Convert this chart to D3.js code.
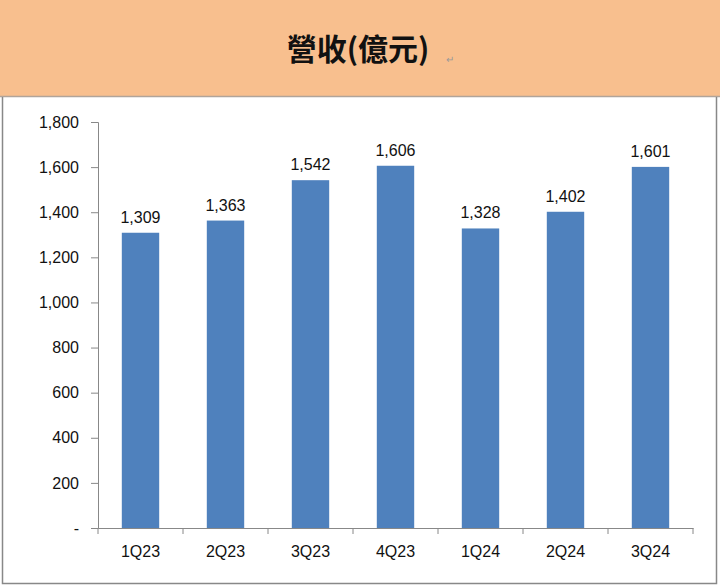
<!DOCTYPE html>
<html><head><meta charset="utf-8">
<script src="https://cdn.jsdelivr.net/npm/d3@7"></script>
<style>body{margin:0;background:#fff}svg{display:block}</style>
</head><body>
<svg id="c" width="720" height="586"></svg>
<script>
// quarterly revenue, 億元
var quarters = ['1Q23', '2Q23', '3Q23', '4Q23', '1Q24', '2Q24', '3Q24'];
var revenue = [1309, 1363, 1542, 1606, 1328, 1402, 1601];
var yTicks = [0, 200, 400, 600, 800, 1000, 1200, 1400, 1600, 1800];

var svg = d3.select('#c');
var font = 'Liberation Sans, Arial, sans-serif';

// header band
svg.append('rect').attr('x', 0).attr('y', 0).attr('width', 720).attr('height', 96)
  .attr('fill', '#F8BF8E');
svg.append('line').attr('x1', 0).attr('x2', 720).attr('y1', 96.5).attr('y2', 96.5)
  .attr('stroke', '#b0a49a').attr('stroke-width', 1.5);
svg.append('text').attr('x', 358).attr('y', 60).attr('text-anchor', 'middle')
  .attr('font-family', 'Noto Sans CJK TC, sans-serif').attr('font-weight', 'bold')
  .attr('font-size', 30).attr('fill', '#111').text('營收(億元)');
svg.append('text').attr('x', 446).attr('y', 63).attr('font-size', 10)
  .attr('fill', '#999').text('↵');

// chart frame
svg.append('path').attr('d', 'M2.5,97 V583.5 H716.5 V97')
  .attr('fill', 'none').attr('stroke', '#888').attr('stroke-width', 1.5);

var x = d3.scaleBand().domain(quarters).range([98, 693]).paddingInner(0.56).paddingOuter(0.28);
var y = d3.scaleLinear().domain([0, 1800]).range([528, 122]);
var band = d3.scaleBand().domain(quarters).range([98, 693]);

var yAxis = svg.append('g').attr('transform', 'translate(98,0)')
  .call(d3.axisLeft(y).tickValues(yTicks).tickSize(7).tickPadding(12)
    .tickFormat(function (d) { return d === 0 ? '-' : d3.format(',')(d); }));
var xAxis = svg.append('g').attr('transform', 'translate(0,528)')
  .call(d3.axisBottom(band).tickSize(0).tickPadding(18));
// x ticks sit between categories
xAxis.selectAll('.sep').data(quarters.concat(['end'])).enter().append('line')
  .attr('x1', function (d, i) { return 98 + i * band.step(); })
  .attr('x2', function (d, i) { return 98 + i * band.step(); })
  .attr('y1', 0).attr('y2', 6).attr('stroke', '#888');

[yAxis, xAxis].forEach(function (g) {
  g.select('.domain').attr('stroke', '#888');
  g.selectAll('.tick line').attr('stroke', '#888');
  g.selectAll('text').attr('font-family', font).attr('font-size', 16).attr('fill', '#111');
});

svg.append('g').selectAll('rect').data(revenue).enter().append('rect')
  .attr('x', function (d, i) { return x(quarters[i]); })
  .attr('width', x.bandwidth())
  .attr('y', function (d) { return y(d); })
  .attr('height', function (d) { return y(0) - y(d); })
  .attr('fill', '#4F81BD');

svg.append('g').selectAll('text').data(revenue).enter().append('text')
  .attr('x', function (d, i) { return x(quarters[i]) + x.bandwidth() / 2; })
  .attr('y', function (d) { return y(d) - 10; })
  .attr('text-anchor', 'middle').attr('font-family', font).attr('font-size', 16)
  .attr('fill', '#111').text(d3.format(','));
</script>
</body></html>
